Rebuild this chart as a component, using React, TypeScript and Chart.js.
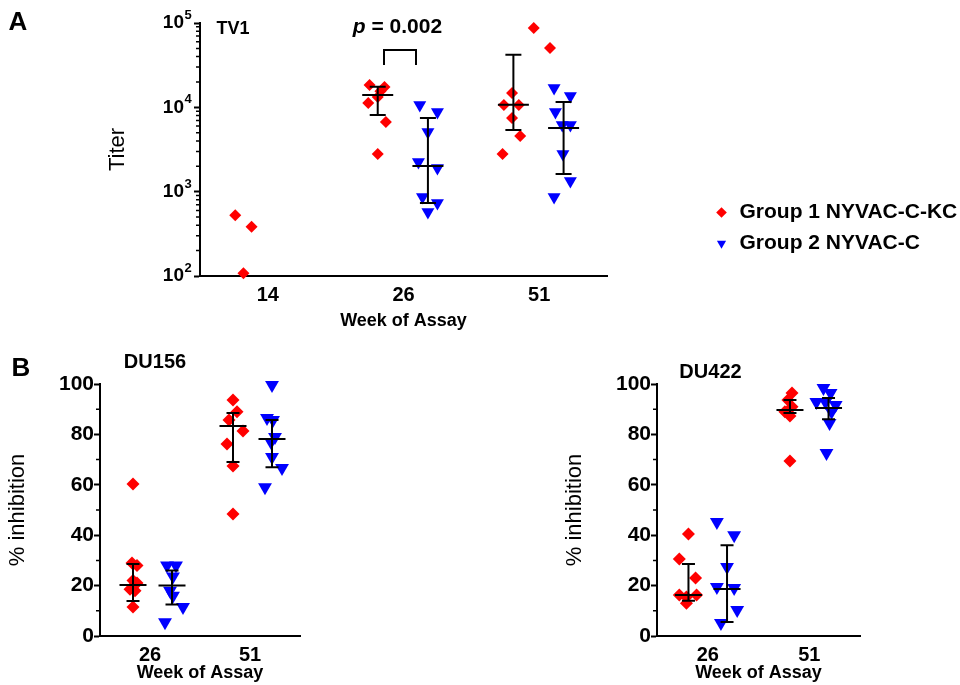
import { useEffect, useRef } from 'react';
import { Chart, registerables } from 'chart.js';

Chart.register(...registerables);

const FONT = '"Liberation Sans", Arial, Helvetica, sans-serif';
Chart.defaults.font.family = FONT;
Chart.defaults.color = '#000';

const RED = '#ff0000';
const BLUE = '#0000ff';
const BLACK = '#000000';

const group1Label = 'Group 1 NYVAC-C-KC';
const group2Label = 'Group 2 NYVAC-C';

// ---------- Panel A: TV1 titer ----------
const tv1WeekLabels = ['14', '26', '51'];
const tv1TickValues = [
  100, 200, 300, 400, 500, 600, 700, 800, 900,
  1000, 2000, 3000, 4000, 5000, 6000, 7000, 8000, 9000,
  10000, 20000, 30000, 40000, 50000, 60000, 70000, 80000, 90000,
  100000,
];
const tv1MajorValues = [100, 1000, 10000, 100000];
const tv1MajorBase = '10';
const tv1MajorExponents = ['2', '3', '4', '5'];

const tv1G1Offset = -0.19;
const tv1G1Week = [0, 0, 0, 1, 1, 1, 1, 1, 1, 1, 2, 2, 2, 2, 2, 2, 2, 2];
const tv1G1Jitter = [-0.05, 0.07, 0.01, -0.06, 0.05, -0.07, 0.0, 0.06, 0.0, 0.02, 0.15, 0.27, -0.01, -0.07, 0.04, -0.01, 0.05, -0.08];
const tv1G1Titer = [525, 383, 108, 18450, 17460, 11270, 13280, 6710, 2800, 15500, 87400, 50700, 14830, 10670, 10670, 7480, 4580, 2800];
const tv1G1Median = [null, 14000, 10700];
const tv1G1Low = [null, 8100, 5400];
const tv1G1High = [null, 17500, 42000];

const tv1G2Offset = 0.18;
const tv1G2Week = [1, 1, 1, 1, 1, 1, 1, 1, 2, 2, 2, 2, 2, 2, 2, 2];
const tv1G2Jitter = [-0.06, 0.07, 0.0, -0.07, 0.07, -0.04, 0.07, 0.0, -0.07, 0.05, -0.06, -0.01, 0.05, -0.005, 0.05, -0.07];
const tv1G2Titer = [10670, 8810, 5100, 2250, 1910, 865, 735, 574, 16980, 13640, 8810, 6160, 6160, 2800, 1340, 865];
const tv1G2Median = [null, 2020, 5700];
const tv1G2Low = [null, 735, 1620];
const tv1G2High = [null, 7480, 11590];

// ---------- Panel B: % inhibition ----------
const pctWeekLabels = ['26', '51'];
const pctTickValues = [0, 10, 20, 30, 40, 50, 60, 70, 80, 90, 100];
const pctMajorValues = [0, 20, 40, 60, 80, 100];

// DU156
const du156G1Offset = -0.17;
const du156G1Week = [0, 0, 0, 0, 0, 0, 0, 0, 1, 1, 1, 1, 1, 1, 1];
const du156G1Jitter = [0, -0.01, 0.04, 0, 0.04, -0.03, 0.02, 0, 0, 0.04, -0.04, 0.1, -0.06, 0, 0];
const du156G1Inhibition = [60.3, 29, 28, 22, 21, 18.6, 18, 11.5, 93.7, 89, 85.7, 81.3, 76.2, 67.5, 48.4];
const du156G1Median = [20.2, 83.3];
const du156G1Low = [13.9, 69];
const du156G1High = [28.6, 88.5];

const du156G2Offset = 0.22;
const du156G2Week = [0, 0, 0, 0, 0, 0, 0, 1, 1, 1, 1, 1, 1, 1, 1];
const du156G2Jitter = [-0.05, 0.04, 0.01, -0.02, 0.01, 0.11, -0.07, 0, -0.05, 0.01, 0.03, -0.01, 0, 0.1, -0.07];
const du156G2Inhibition = [28, 28, 23.6, 18, 16, 11.5, 5.5, 99.6, 86.5, 85.7, 79, 77, 71, 66.7, 59];
const du156G2Median = [20, 78.2];
const du156G2Low = [12.5, 67];
const du156G2High = [26, 85.7];

// DU422
const du422G1Offset = -0.19;
const du422G1Week = [0, 0, 0, 0, 0, 0, 0, 1, 1, 1, 1, 1, 1];
const du422G1Jitter = [0, -0.09, 0.07, -0.09, -0.02, 0.08, -0.02, 0.02, -0.02, 0.02, -0.05, 0, 0];
const du422G1Inhibition = [40.5, 30.6, 23, 16.3, 15.5, 16.3, 13, 96.4, 93.7, 91, 89, 87.3, 69.4];
const du422G1Median = [16.3, 89.7];
const du422G1Low = [14, 88.5];
const du422G1High = [28.6, 93.7];

const du422G2Offset = 0.19;
const du422G2Week = [0, 0, 0, 0, 0, 0, 0, 1, 1, 1, 1, 1, 1, 1, 1];
const du422G2Jitter = [-0.1, 0.07, 0, -0.1, 0.07, 0.1, -0.06, -0.05, 0.02, -0.12, 0.07, -0.03, 0.03, 0.01, -0.02];
const du422G2Inhibition = [45.2, 40, 27.4, 19.4, 19, 10.3, 5.2, 98.4, 96.4, 92.9, 91.7, 92.9, 89, 84.5, 72.6];
const du422G2Median = [18.7, 90.5];
const du422G2Low = [5.6, 86];
const du422G2High = [36, 94.4];

// ---------- helpers ----------
type Stat = { offset: number; median: (number | null)[]; low: (number | null)[]; high: (number | null)[] };
type TextPart = { text: string; font: string };
type Label = { parts: TextPart[]; x: number; y: number };

const f = (size: number, style = 'bold') => `${style} ${size}px ${FONT}`;

function points(weeks: number[], jitter: number[], values: number[], offset: number) {
  return values.map((v, i) => ({ x: weeks[i] + offset + jitter[i], y: v }));
}

function errorBarPlugin(groups: Stat[], medianHalf: number, capHalf: number) {
  return {
    id: 'errorBars',
    afterDatasetsDraw(chart: any) {
      const { ctx } = chart;
      const xs = chart.scales.x;
      const ys = chart.scales.y;
      ctx.save();
      ctx.strokeStyle = BLACK;
      ctx.lineWidth = 2;
      ctx.beginPath();
      groups.forEach((g) =>
        g.median.forEach((m, i) => {
          const lo = g.low[i];
          const hi = g.high[i];
          if (m == null || lo == null || hi == null) return;
          const cx = xs.getPixelForValue(i + g.offset);
          const ym = ys.getPixelForValue(m);
          const yl = ys.getPixelForValue(lo);
          const yh = ys.getPixelForValue(hi);
          ctx.moveTo(cx, yh);
          ctx.lineTo(cx, yl);
          ctx.moveTo(cx - capHalf, yh);
          ctx.lineTo(cx + capHalf, yh);
          ctx.moveTo(cx - capHalf, yl);
          ctx.lineTo(cx + capHalf, yl);
          ctx.moveTo(cx - medianHalf, ym);
          ctx.lineTo(cx + medianHalf, ym);
        })
      );
      ctx.stroke();
      ctx.restore();
    },
  };
}

function minorTickPlugin(majors: number[], length: number) {
  return {
    id: 'minorTicks',
    afterDraw(chart: any) {
      const ys = chart.scales.y;
      const ctx = chart.ctx;
      ctx.save();
      ctx.strokeStyle = BLACK;
      ctx.lineWidth = 1.5;
      ctx.beginPath();
      for (const t of ys.ticks) {
        if (majors.includes(t.value)) continue;
        const y = ys.getPixelForValue(t.value);
        ctx.moveTo(ys.right - length, y);
        ctx.lineTo(ys.right, y);
      }
      ctx.stroke();
      ctx.restore();
    },
  };
}

// draws the power-of-ten exponents of the log axis as superscripts next to the "10" labels
function exponentPlugin(values: number[], exponents: string[], font: string, gap: number, rise: number) {
  return {
    id: 'exponents',
    afterDraw(chart: any) {
      const ys = chart.scales.y;
      const ctx = chart.ctx;
      const tickLen = ys.options.grid.tickLength;
      const pad = ys.options.ticks.padding;
      ctx.save();
      ctx.fillStyle = BLACK;
      ctx.font = font;
      ctx.textAlign = 'left';
      ctx.textBaseline = 'middle';
      values.forEach((v, i) => {
        const y = ys.getPixelForValue(v);
        ctx.fillText(exponents[i], ys.right - tickLen - pad + gap, y - rise);
      });
      ctx.restore();
    },
  };
}

function annotationPlugin(labels: Label[], bracket?: number[][]) {
  return {
    id: 'annotations',
    afterDraw(chart: any) {
      const ctx = chart.ctx;
      ctx.save();
      ctx.fillStyle = BLACK;
      ctx.textBaseline = 'middle';
      ctx.textAlign = 'left';
      for (const l of labels) {
        let total = 0;
        for (const p of l.parts) {
          ctx.font = p.font;
          total += ctx.measureText(p.text).width;
        }
        let x = l.x - total / 2;
        for (const p of l.parts) {
          ctx.font = p.font;
          ctx.fillText(p.text, x, l.y);
          x += ctx.measureText(p.text).width;
        }
      }
      if (bracket) {
        ctx.strokeStyle = BLACK;
        ctx.lineWidth = 2;
        ctx.beginPath();
        bracket.forEach(([x, y], i) => (i ? ctx.lineTo(x, y) : ctx.moveTo(x, y)));
        ctx.stroke();
      }
      ctx.restore();
    },
  };
}

function group1Dataset(data: any[], radius: number) {
  return {
    label: group1Label, data, pointStyle: 'rectRot', pointRadius: radius,
    backgroundColor: RED, borderColor: RED, pointBorderWidth: 0, clip: false,
    xAxisID: 'x', yAxisID: 'y',
  };
}
function group2Dataset(data: any[], radius: number) {
  return {
    label: group2Label, data, pointStyle: 'triangle', pointRotation: 180, pointRadius: radius,
    backgroundColor: BLUE, borderColor: BLUE, pointBorderWidth: 0, clip: false,
    xAxisID: 'x', yAxisID: 'y',
  };
}

// ---------- configs ----------
function makeTv1Config(): any {
  return {
    type: 'scatter',
    data: {
      datasets: [
        group1Dataset(points(tv1G1Week, tv1G1Jitter, tv1G1Titer, tv1G1Offset), 6),
        group2Dataset(points(tv1G2Week, tv1G2Jitter, tv1G2Titer, tv1G2Offset), 7.5),
      ],
    },
    options: {
      responsive: false,
      animation: false,
      events: [],
      layout: { padding: { top: 23, right: 13, bottom: 0, left: 0 } },
      scales: {
        x: {
          type: 'linear', position: 'bottom', min: -0.5, max: 2.5,
          afterBuildTicks: (s: any) => { s.ticks = tv1WeekLabels.map((_, i) => ({ value: i })); },
          afterFit: (s: any) => { s.height = 64; },
          grid: { display: false, drawTicks: false },
          border: { display: true, color: BLACK, width: 2 },
          ticks: {
            autoSkip: false, maxRotation: 0, padding: 7.5, color: BLACK,
            font: { size: 20, weight: 'bold' },
            callback: (v: number) => tv1WeekLabels[v] ?? '',
          },
          title: {
            display: true, text: 'Week of Assay', color: BLACK,
            font: { size: 18, weight: 'bold' }, padding: { top: 0, bottom: 8.2 },
          },
        },
        y: {
          type: 'logarithmic', position: 'left', min: 100, max: 100000,
          afterBuildTicks: (s: any) => {
            s.ticks = tv1TickValues.map((v) => ({ value: v, major: tv1MajorValues.includes(v) }));
          },
          afterFit: (s: any) => { s.width = 200; },
          grid: {
            display: true, drawOnChartArea: false, drawTicks: true, tickLength: 6, tickWidth: 2,
            tickColor: (c: any) => (c.tick && tv1MajorValues.includes(c.tick.value) ? BLACK : 'rgba(0,0,0,0)'),
          },
          border: { display: true, color: BLACK, width: 2 },
          ticks: {
            autoSkip: false, padding: 10, color: BLACK, font: { size: 19, weight: 'bold' },
            callback: (v: number) => (tv1MajorValues.includes(v) ? tv1MajorBase : ''),
          },
          title: {
            display: true, text: 'Titer', color: BLACK,
            font: { size: 22, weight: 'normal' }, padding: { top: 104.8, bottom: 0 },
          },
        },
      },
      plugins: { legend: { display: false }, tooltip: { enabled: false } },
    },
    plugins: [
      errorBarPlugin(
        [
          { offset: tv1G1Offset, median: tv1G1Median, low: tv1G1Low, high: tv1G1High },
          { offset: tv1G2Offset, median: tv1G2Median, low: tv1G2Low, high: tv1G2High },
        ],
        15.5, 8
      ),
      minorTickPlugin(tv1MajorValues, 4),
      exponentPlugin(tv1MajorValues, tv1MajorExponents, f(13), 0.5, 7.5),
      annotationPlugin(
        [
          { parts: [{ text: 'A', font: f(26) }], x: 18, y: 22.5 },
          { parts: [{ text: 'TV1', font: f(18) }], x: 233, y: 29.5 },
          { parts: [{ text: 'p', font: f(21, 'italic bold') }, { text: ' = 0.002', font: f(21) }], x: 397.5, y: 27 },
        ],
        [[384, 65], [384, 50], [416, 50], [416, 65]]
      ),
    ],
  };
}

function makeLegendConfig(): any {
  return {
    type: 'scatter',
    data: {
      datasets: [group1Dataset([], 6), group2Dataset([], 7.5)],
    },
    options: {
      responsive: false,
      animation: false,
      events: [],
      layout: { padding: 0 },
      scales: { x: { display: false }, y: { display: false } },
      plugins: {
        legend: {
          display: true, position: 'top', align: 'start',
          labels: {
            usePointStyle: true, boxWidth: 15, boxHeight: 7.5, padding: 10, color: BLACK,
            font: { size: 21, weight: 'bold' },
          },
        },
        tooltip: { enabled: false },
      },
    },
  };
}

function makePctConfig(p: {
  g1: { week: number[]; jitter: number[]; values: number[]; stat: Stat };
  g2: { week: number[]; jitter: number[]; values: number[]; stat: Stat };
  yAxisWidth: number; titlePad: number; padRight: number; labels: Label[];
}): any {
  return {
    type: 'scatter',
    data: {
      datasets: [
        group1Dataset(points(p.g1.week, p.g1.jitter, p.g1.values, p.g1.stat.offset), 6.5),
        group2Dataset(points(p.g2.week, p.g2.jitter, p.g2.values, p.g2.stat.offset), 8),
      ],
    },
    options: {
      responsive: false,
      animation: false,
      events: [],
      layout: { padding: { top: 44, right: p.padRight, bottom: 0, left: 0 } },
      scales: {
        x: {
          type: 'linear', position: 'bottom', min: -0.5, max: 1.5,
          afterBuildTicks: (s: any) => { s.ticks = pctWeekLabels.map((_, i) => ({ value: i })); },
          afterFit: (s: any) => { s.height = 49; },
          grid: { display: false, drawTicks: false },
          border: { display: true, color: BLACK, width: 2 },
          ticks: {
            autoSkip: false, maxRotation: 0, padding: 7, color: BLACK,
            font: { size: 20, weight: 'bold' },
            callback: (v: number) => pctWeekLabels[v] ?? '',
          },
          title: {
            display: true, text: 'Week of Assay', color: BLACK,
            font: { size: 18, weight: 'bold', lineHeight: 1 }, padding: { top: 0, bottom: 2.5 },
          },
        },
        y: {
          type: 'linear', position: 'left', min: 0, max: 100,
          afterBuildTicks: (s: any) => { s.ticks = pctTickValues.map((v) => ({ value: v })); },
          afterFit: (s: any) => { s.width = p.yAxisWidth; },
          grid: {
            display: true, drawOnChartArea: false, drawTicks: true, tickLength: 6, tickWidth: 2,
            tickColor: (c: any) => (c.tick && pctMajorValues.includes(c.tick.value) ? BLACK : 'rgba(0,0,0,0)'),
          },
          border: { display: true, color: BLACK, width: 2 },
          ticks: {
            autoSkip: false, padding: 0, color: BLACK, font: { size: 21, weight: 'bold' },
            callback: (v: number) => (pctMajorValues.includes(v) ? String(v) : ''),
          },
          title: {
            display: true, text: '% inhibition', color: BLACK,
            font: { size: 22, weight: 'normal' }, padding: { top: p.titlePad, bottom: 0 },
          },
        },
      },
      plugins: { legend: { display: false }, tooltip: { enabled: false } },
    },
    plugins: [
      errorBarPlugin([p.g1.stat, p.g2.stat], 13.5, 6.5),
      minorTickPlugin(pctMajorValues, 4),
      annotationPlugin(p.labels),
    ],
  };
}

const makeDu156Config = () =>
  makePctConfig({
    g1: {
      week: du156G1Week, jitter: du156G1Jitter, values: du156G1Inhibition,
      stat: { offset: du156G1Offset, median: du156G1Median, low: du156G1Low, high: du156G1High },
    },
    g2: {
      week: du156G2Week, jitter: du156G2Jitter, values: du156G2Inhibition,
      stat: { offset: du156G2Offset, median: du156G2Median, low: du156G2Low, high: du156G2High },
    },
    yAxisWidth: 100, titlePad: 5, padRight: 20,
    labels: [
      { parts: [{ text: 'B', font: f(26) }], x: 21, y: 29 },
      { parts: [{ text: 'DU156', font: f(20) }], x: 155, y: 22 },
    ],
  });

const makeDu422Config = () =>
  makePctConfig({
    g1: {
      week: du422G1Week, jitter: du422G1Jitter, values: du422G1Inhibition,
      stat: { offset: du422G1Offset, median: du422G1Median, low: du422G1Low, high: du422G1High },
    },
    g2: {
      week: du422G2Week, jitter: du422G2Jitter, values: du422G2Inhibition,
      stat: { offset: du422G2Offset, median: du422G2Median, low: du422G2Low, high: du422G2High },
    },
    yAxisWidth: 117, titlePad: 21.8, padRight: 100,
    labels: [{ parts: [{ text: 'DU422', font: f(20) }], x: 170.5, y: 32 }],
  });

function ChartBox(props: { left: number; top: number; width: number; height: number; make: () => any }) {
  const ref = useRef<HTMLCanvasElement | null>(null);
  useEffect(() => {
    if (!ref.current) return;
    const chart = new Chart(ref.current, props.make());
    return () => chart.destroy();
  }, []);
  return (
    <canvas
      ref={ref}
      width={props.width}
      height={props.height}
      style={{ position: 'absolute', left: props.left, top: props.top, width: props.width, height: props.height }}
    />
  );
}

export default function App() {
  return (
    <div style={{ position: 'absolute', left: 0, top: 0, width: 960, height: 685, background: '#fff', overflow: 'hidden' }}>
      <ChartBox left={0} top={0} width={620} height={340} make={makeTv1Config} />
      <ChartBox left={704} top={192} width={256} height={170} make={makeLegendConfig} />
      <ChartBox left={0} top={340} width={320} height={345} make={makeDu156Config} />
      <ChartBox left={540} top={340} width={420} height={345} make={makeDu422Config} />
    </div>
  );
}
